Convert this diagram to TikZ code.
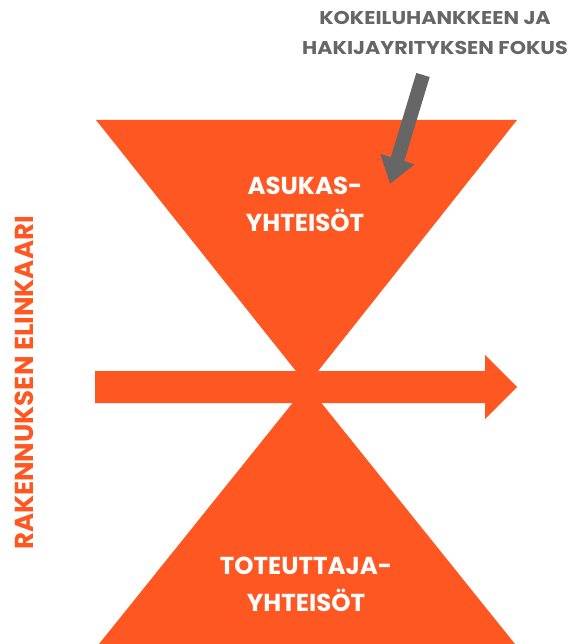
\documentclass[tikz,border=0pt]{standalone}
\usepackage{fontspec}
\usetikzlibrary{arrows.meta}
\setmainfont{Poppins}[BoldFont={* Bold}]
\newfontfamily\widefont{Poppins}[BoldFont={* Bold},FakeStretch=1.12]
\definecolor{hgorange}{HTML}{FF5722}
\definecolor{hggray}{HTML}{666666}
\begin{document}
\begin{tikzpicture}[x=1pt,y=-1pt,
  shapefill/.style={fill=hgorange,draw=none},
  inlabel/.style={text=white,font=\bfseries\fontsize{24.5}{37}\selectfont,align=center,inner sep=0pt},
  toplabel/.style={text=hggray,font=\widefont\bfseries\fontsize{18.5}{30}\selectfont,align=center,inner sep=0pt},
  sidelabel/.style={text=hgorange,font=\bfseries\fontsize{26}{24}\selectfont,inner sep=0pt,rotate=90}]
\useasboundingbox (0,0) rectangle (570,644);
% hourglass
\fill[shapefill] (96,120) -- (517,120) -- (307,385) -- cycle;
\fill[shapefill] (307,385) -- (515,644) -- (99,644) -- cycle;
% horizontal arrow
\fill[shapefill] (95,371) -- (485,371) -- (485,355) -- (517,387) -- (485,419) -- (485,403) -- (95,403) -- cycle;
% texts
\node[inlabel] (asukas) at (305,204) {ASUKAS-\\YHTEISÖT};
\node[inlabel] (toteuttaja) at (306,584) {TOTEUTTAJA-\\YHTEISÖT};
\node[toplabel] (fokus) at (435,33) {KOKEILUHANKKEEN JA\\HAKIJAYRITYKSEN FOKUS};
\node[sidelabel] (elinkaari) at (24,383) {RAKENNUKSEN ELINKAARI};
% gray arrow
\coordinate (gstart) at (423,75);
\coordinate (gtip) at (390,184);
\draw[hggray,line width=14pt,-{Triangle[length=26pt,width=34pt]}] (gstart) -- (gtip);
\end{tikzpicture}
\end{document}
